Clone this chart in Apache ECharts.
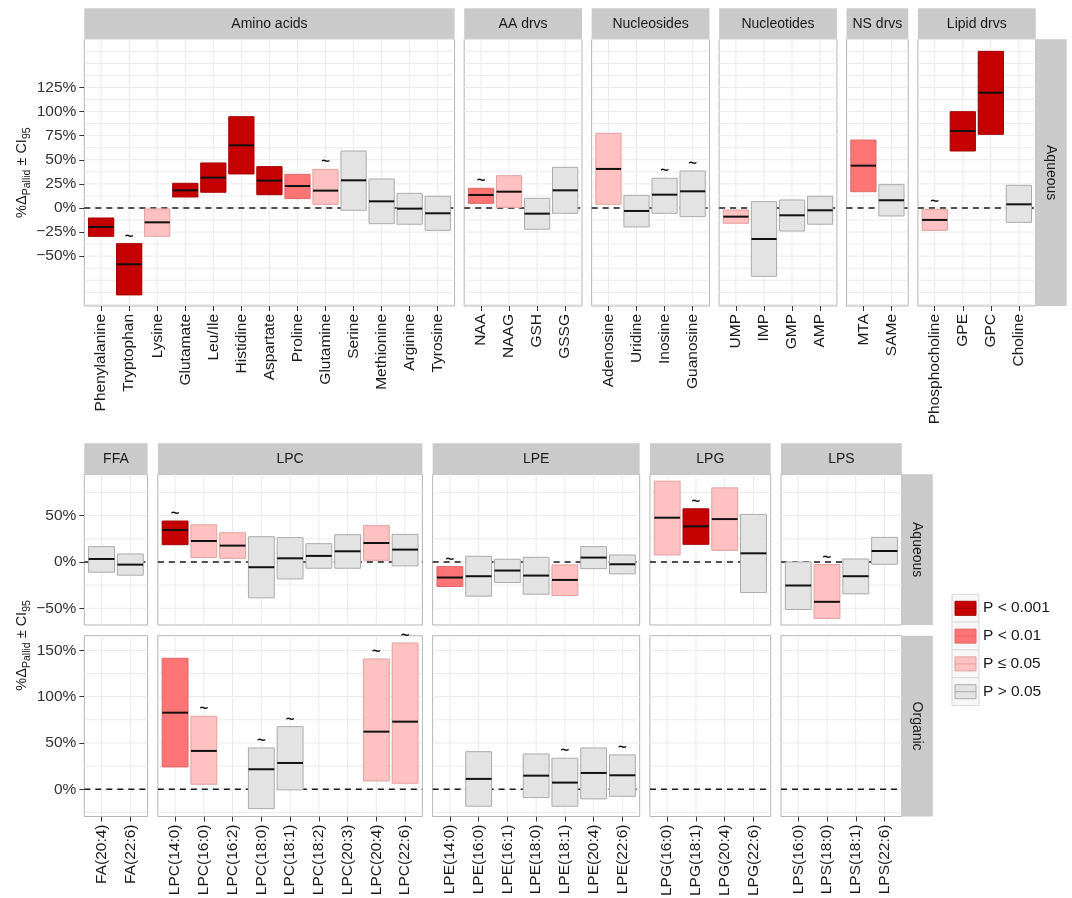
<!DOCTYPE html>
<html><head><meta charset="utf-8">
<script src="https://cdn.jsdelivr.net/npm/echarts@6/dist/echarts.min.js"></script>
<style>html,body{margin:0;padding:0;background:#fff}#c{width:1072px;height:898px}</style>
</head><body><div id="c"></div><script>
// ---------- DATA ----------
// significance code: 3 = P < 0.001, 2 = P < 0.01, 1 = P <= 0.05, 0 = P > 0.05
const sigLabels = ['P > 0.05', 'P \u2264 0.05', 'P < 0.01', 'P < 0.001'];

// Top row (Aqueous)
const aaNames = ['Phenylalanine','Tryptophan','Lysine','Glutamate','Leu/Ile','Histidine','Aspartate','Proline','Glutamine','Serine','Methionine','Arginine','Tyrosine'];
const aaLo  = [-29.4, -90.2, -29.4, 11.4, 16.3, 35.3, 13.8, 9.7, 3.8, -2.4, -16.3, -16.9, -23.2];
const aaMid = [-19.7, -58.4, -14.9, 18.3, 31.5, 65.0, 28.4, 22.8, 18.0, 28.7, 6.9, -0.7, -5.5];
const aaHi  = [-10.4, -37.0, -1.0, 25.6, 46.7, 94.7, 42.9, 34.9, 40.1, 59.1, 30.1, 15.2, 12.1];
const aaSig = [3, 3, 1, 3, 3, 3, 3, 2, 1, 0, 0, 0, 0];
const aaTilde = [0, 1, 0, 0, 0, 0, 0, 0, 1, 0, 0, 0, 0];

const aadNames = ['NAA','NAAG','GSH','GSSG'];
const aadLo  = [4.8, 0.7, -22.1, -5.5];
const aadMid = [13.5, 16.9, -5.9, 18.3];
const aadHi  = [20.4, 33.5, 10.0, 42.2];
const aadSig = [2, 1, 0, 0];
const aadTilde = [1, 0, 0, 0];

const nsNames = ['Adenosine','Uridine','Inosine','Guanosine'];
const nsLo  = [3.8, -19.7, -5.5, -9.0];
const nsMid = [40.5, -3.1, 13.8, 17.3];
const nsHi  = [77.5, 13.1, 30.8, 38.4];
const nsSig = [1, 0, 0, 0];
const nsTilde = [0, 0, 1, 1];

const ntNames = ['UMP','IMP','GMP','AMP'];
const ntLo  = [-15.9, -70.9, -23.9, -16.9];
const ntMid = [-9.0, -32.2, -7.6, -2.4];
const ntHi  = [-2.1, 6.6, 8.3, 12.1];
const ntSig = [1, 0, 0, 0];
const ntTilde = [0, 0, 0, 0];

const nsdNames = ['MTA','SAMe'];
const nsdLo  = [16.9, -8.3];
const nsdMid = [43.9, 8.0];
const nsdHi  = [70.5, 24.2];
const nsdSig = [2, 0];
const nsdTilde = [0, 0];

const ldNames = ['Phosphocholine','GPE','GPC','Choline'];
const ldLo  = [-23.2, 59.1, 76.4, -14.9];
const ldMid = [-12.4, 79.9, 119.6, 3.8];
const ldHi  = [-1.4, 99.9, 162.5, 23.5];
const ldSig = [1, 3, 3, 0];
const ldTilde = [1, 0, 0, 0];

// Bottom rows (Aqueous / Organic)
const ffaNames = ['FA(20:4)','FA(22:6)'];
const ffaAqLo  = [-11.1, -14.3];
const ffaAqMid = [3.2, -2.9];
const ffaAqHi  = [16.5, 8.6];
const ffaAqSig = [0, 0];
const ffaAqTilde = [0, 0];

const lpcNames = ['LPC(14:0)','LPC(16:0)','LPC(16:2)','LPC(18:0)','LPC(18:1)','LPC(18:2)','LPC(20:3)','LPC(20:4)','LPC(22:6)'];
const lpcAqLo  = [18.6, 4.7, 3.9, -38.7, -18.3, -6.8, -6.8, 1.8, -4.3];
const lpcAqMid = [34.4, 22.6, 17.6, -5.7, 3.9, 6.5, 11.5, 20.4, 13.3];
const lpcAqHi  = [44.1, 40.1, 31.5, 27.2, 26.2, 19.7, 29.4, 39.1, 29.7];
const lpcAqSig = [3, 1, 1, 0, 0, 0, 0, 1, 0];
const lpcAqTilde = [1, 0, 0, 0, 0, 0, 0, 0, 0];
const lpcOrgLo  = [24.1, 5.4, null, -20.9, -0.7, null, null, 9.0, 6.5];
const lpcOrgMid = [82.7, 41.4, null, 21.6, 28.4, null, null, 62.2, 73.0];
const lpcOrgHi  = [141.4, 78.8, null, 44.6, 67.6, null, null, 140.6, 157.9];
const lpcOrgSig = [2, 1, null, 0, 0, null, null, 1, 1];
const lpcOrgTilde = [0, 1, 0, 1, 1, 0, 0, 1, 1];

const lpeNames = ['LPE(14:0)','LPE(16:0)','LPE(16:1)','LPE(18:0)','LPE(18:1)','LPE(20:4)','LPE(22:6)'];
const lpeAqLo  = [-26.5, -36.9, -22.2, -34.8, -36.2, -7.2, -12.9];
const lpeAqMid = [-16.8, -15.4, -9.3, -14.7, -19.4, 4.7, -2.5];
const lpeAqHi  = [-5.0, 6.1, 2.9, 5.0, -3.2, 16.5, 7.5];
const lpeAqSig = [2, 0, 0, 0, 1, 0, 0];
const lpeAqTilde = [1, 0, 0, 0, 0, 0, 0];
const lpeOrgLo  = [null, -18.3, null, -9.0, -18.3, -10.4, -7.6];
const lpeOrgMid = [null, 11.2, null, 14.7, 7.2, 17.6, 15.1];
const lpeOrgHi  = [null, 40.6, null, 38.1, 33.5, 44.6, 37.1];
const lpeOrgSig = [null, 0, null, 0, 0, 0, 0];
const lpeOrgTilde = [0, 0, 0, 0, 1, 0, 1];

const lpgNames = ['LPG(16:0)','LPG(18:1)','LPG(20:4)','LPG(22:6)'];
const lpgAqLo  = [7.5, 19.0, 12.5, -33.0];
const lpgAqMid = [47.7, 38.4, 46.2, 9.3];
const lpgAqHi  = [87.1, 57.3, 79.9, 51.3];
const lpgAqSig = [1, 3, 1, 0];
const lpgAqTilde = [0, 1, 0, 0];

const lpsNames = ['LPS(16:0)','LPS(18:0)','LPS(18:1)','LPS(22:6)'];
const lpsAqLo  = [-51.3, -60.9, -34.4, -2.5];
const lpsAqMid = [-25.4, -43.0, -15.4, 11.8];
const lpsAqHi  = [0.0, -2.9, 3.2, 26.5];
const lpsAqSig = [0, 1, 0, 0];
const lpsAqTilde = [0, 1, 0, 0];

// Axis ticks / gridlines (percent)
const topGridVals = [-100,-87.5,-75,-62.5,-50,-37.5,-25,-12.5,0,12.5,25,37.5,50,62.5,75,87.5,100,112.5,125,137.5,150,162.5,175];
const topTickLabels = [-50,-25,0,25,50,75,100,125];
const aqGridVals = [-50,-25,0,25,50,75];
const aqTickLabels = [-50,0,50];
const orgGridVals = [-25,0,25,50,75,100,125,150];
const orgTickLabels = [0,50,100,150];

// ---------- STYLE / LAYOUT ----------
const FONT = '"Liberation Sans", Arial, Helvetica, sans-serif';
const sigFill = ['#e3e3e3', '#ffc1c1', '#ff7575', '#c40000'];
const sigLine = ['#ababab', '#e3a1a1', '#e06868', '#a40000'];
const STRIP_FILL = '#cacaca';
const STRIP = 31;
const BAR_HALF = 0.45;

const TOP = {x0: 84.3, unit: 28.05, gap: 9.64, top: 39.3, height: 266.7, min: -101.7, max: 175};
const BOT = {x0: 84.3, unit: 28.75, gap: 10.3};
const AQ = {top: 474.3, height: 150.7, min: -68.0, max: 94.5};
const ORG = {top: 635.7, height: 180.8, min: -29.4, max: 165.8};

const grids = [], xAxes = [], yAxes = [], series = [], graphics = [];

function fmtPct(v) { return (v < 0 ? '\u2212' + Math.abs(v) : String(v)) + '%'; }

function renderGrid(params, api) {
  const kind = api.value(2);
  const cs = params.coordSys;
  if (kind === 1) {
    const x = api.coord([api.value(0), 0])[0];
    return {type: 'line', shape: {x1: x, y1: cs.y, x2: x, y2: cs.y + cs.height}, style: {stroke: '#ebebeb', lineWidth: 1}};
  }
  const y = api.coord([0, api.value(1)])[1];
  if (kind === 0) {
    return {type: 'line', shape: {x1: cs.x, y1: y, x2: cs.x + cs.width, y2: y}, style: {stroke: '#ebebeb', lineWidth: 1}};
  }
  return {type: 'line', shape: {x1: cs.x, y1: y, x2: cs.x + cs.width, y2: y}, style: {stroke: '#1a1a1a', lineWidth: 1.6, lineDash: [6, 5]}};
}

function renderBar(params, api) {
  const i = api.value(0), lo = api.value(1), mid = api.value(2), hi = api.value(3), sig = api.value(4), tl = api.value(5);
  const a = api.coord([i - BAR_HALF, lo]);
  const b = api.coord([i + BAR_HALF, hi]);
  const m = api.coord([i, mid]);
  const children = [
    {type: 'rect', shape: {x: a[0], y: b[1], width: b[0] - a[0], height: a[1] - b[1]}, style: {fill: sigFill[sig], stroke: sigLine[sig], lineWidth: 1}},
    {type: 'line', shape: {x1: a[0], y1: m[1], x2: b[0], y2: m[1]}, style: {stroke: '#111', lineWidth: 2}}
  ];
  if (tl) {
    children.push({type: 'text', x: m[0], y: b[1] - 7, style: {text: '~', fill: '#111', font: 'bold 15px ' + FONT, align: 'center', verticalAlign: 'middle', textAlign: 'center', textVerticalAlign: 'middle'}});
  }
  return {type: 'group', children: children};
}

function collectBars(lo, mid, hi, sig, tl) {
  const out = [];
  if (!lo) return out;
  for (let i = 0; i < lo.length; i++) {
    if (lo[i] != null) out.push([i, lo[i], mid[i], hi[i], sig[i], tl[i]]);
  }
  return out;
}

function addPanel(left, top, width, height, names, ymin, ymax, gridVals, labelVals, showY, showX, bars) {
  const gi = grids.length;
  grids.push({left: left, top: top, width: width, height: height, show: true, backgroundColor: '#fff',
    borderColor: '#b5b5b5', borderWidth: 1, containLabel: false, outerBoundsMode: 'none'});
  const idx = names.map((_, i) => i);
  xAxes.push({type: 'value', gridIndex: gi, position: 'bottom', min: -0.6, max: names.length - 0.4,
    axisLine: {show: false, onZero: false}, splitLine: {show: false},
    axisTick: {show: showX, customValues: idx, length: 5, lineStyle: {color: '#333', width: 1}},
    axisLabel: {show: showX, customValues: idx, formatter: v => names[Math.round(v)], rotate: 90,
      fontSize: 15.5, fontFamily: FONT, color: '#1a1a1a', margin: 8}});
  yAxes.push({type: 'value', gridIndex: gi, position: 'left', min: ymin, max: ymax,
    axisLine: {show: false, onZero: false}, splitLine: {show: false},
    axisTick: {show: showY, customValues: labelVals, length: 5, lineStyle: {color: '#333', width: 1}},
    axisLabel: {show: showY, customValues: labelVals, formatter: fmtPct, fontSize: 15.5, fontFamily: FONT, color: '#333', margin: 8}});
  const gdata = gridVals.map(v => [0, v, 0]).concat(idx.map(i => [i, 0, 1])).concat([[0, 0, 2]]);
  series.push({type: 'custom', xAxisIndex: gi, yAxisIndex: gi, z: 1, silent: true, renderItem: renderGrid, data: gdata});
  if (bars.length) {
    series.push({type: 'custom', xAxisIndex: gi, yAxisIndex: gi, z: 2, silent: true, renderItem: renderBar, data: bars});
  }
}

function addStrip(x, y, w, h, label, vertical) {
  graphics.push({type: 'rect', shape: {x: x, y: y, width: w, height: h}, style: {fill: STRIP_FILL}, silent: true});
  graphics.push({type: 'text', x: x + w / 2, y: y + h / 2, rotation: vertical ? -Math.PI / 2 : 0,
    style: {text: label, fill: '#1a1a1a', font: '14px ' + FONT, align: 'center', verticalAlign: 'middle', textAlign: 'center', textVerticalAlign: 'middle'}, silent: true});
}

// ---------- TOP ROW ----------
const topFacets = [
  ['Amino acids', aaNames, aaLo, aaMid, aaHi, aaSig, aaTilde],
  ['AA drvs', aadNames, aadLo, aadMid, aadHi, aadSig, aadTilde],
  ['Nucleosides', nsNames, nsLo, nsMid, nsHi, nsSig, nsTilde],
  ['Nucleotides', ntNames, ntLo, ntMid, ntHi, ntSig, ntTilde],
  ['NS drvs', nsdNames, nsdLo, nsdMid, nsdHi, nsdSig, nsdTilde],
  ['Lipid drvs', ldNames, ldLo, ldMid, ldHi, ldSig, ldTilde]
];
let x = TOP.x0;
topFacets.forEach((f, k) => {
  const w = (f[1].length + 0.2) * TOP.unit;
  addPanel(x, TOP.top, w, TOP.height, f[1], TOP.min, TOP.max, topGridVals, topTickLabels, k === 0, true,
    collectBars(f[2], f[3], f[4], f[5], f[6]));
  addStrip(x, TOP.top - STRIP, w, STRIP, f[0], false);
  x += w;
  if (k < topFacets.length - 1) x += TOP.gap;
});
addStrip(x, TOP.top, STRIP, TOP.height, 'Aqueous', true);

// ---------- BOTTOM ROWS ----------
const botFacets = [
  ['FFA', ffaNames, [ffaAqLo, ffaAqMid, ffaAqHi, ffaAqSig, ffaAqTilde], null],
  ['LPC', lpcNames, [lpcAqLo, lpcAqMid, lpcAqHi, lpcAqSig, lpcAqTilde], [lpcOrgLo, lpcOrgMid, lpcOrgHi, lpcOrgSig, lpcOrgTilde]],
  ['LPE', lpeNames, [lpeAqLo, lpeAqMid, lpeAqHi, lpeAqSig, lpeAqTilde], [lpeOrgLo, lpeOrgMid, lpeOrgHi, lpeOrgSig, lpeOrgTilde]],
  ['LPG', lpgNames, [lpgAqLo, lpgAqMid, lpgAqHi, lpgAqSig, lpgAqTilde], null],
  ['LPS', lpsNames, [lpsAqLo, lpsAqMid, lpsAqHi, lpsAqSig, lpsAqTilde], null]
];
x = BOT.x0;
botFacets.forEach((f, k) => {
  const w = (f[1].length + 0.2) * BOT.unit;
  const aq = f[2], org = f[3];
  addPanel(x, AQ.top, w, AQ.height, f[1], AQ.min, AQ.max, aqGridVals, aqTickLabels, k === 0, false,
    collectBars(aq[0], aq[1], aq[2], aq[3], aq[4]));
  addPanel(x, ORG.top, w, ORG.height, f[1], ORG.min, ORG.max, orgGridVals, orgTickLabels, k === 0, true,
    org ? collectBars(org[0], org[1], org[2], org[3], org[4]) : []);
  addStrip(x, AQ.top - STRIP, w, STRIP, f[0], false);
  x += w;
  if (k < botFacets.length - 1) x += BOT.gap;
});
addStrip(x, AQ.top, STRIP, AQ.height, 'Aqueous', true);
addStrip(x, ORG.top, STRIP, ORG.height, 'Organic', true);

// ---------- Y TITLES ----------
function yTitle(cy) {
  graphics.push({type: 'text', x: 22, y: cy, rotation: Math.PI / 2, silent: true,
    style: {text: '{a|%\u0394}{s|Pallid}{a| \u00b1 CI}{s|95}', align: 'center', verticalAlign: 'middle', textAlign: 'center', textVerticalAlign: 'middle',
      rich: {
        a: {fontSize: 14.5, fontFamily: FONT, fill: '#1a1a1a', color: '#1a1a1a', lineHeight: 22, verticalAlign: 'middle'},
        s: {fontSize: 10.5, fontFamily: FONT, fill: '#1a1a1a', color: '#1a1a1a', lineHeight: 22, verticalAlign: 'bottom'}
      }}});
}
yTitle(TOP.top + TOP.height / 2);
yTitle((AQ.top + ORG.top + ORG.height) / 2);

// ---------- LEGEND ----------
const LEG = {x: 952, y: 594.3, w: 27, h: 27.8};
[3, 2, 1, 0].forEach((s, k) => {
  const ky = LEG.y + k * LEG.h;
  graphics.push({type: 'rect', shape: {x: LEG.x, y: ky, width: LEG.w, height: LEG.h}, style: {fill: '#f7f7f7', stroke: '#d9d9d9', lineWidth: 1}, silent: true});
  graphics.push({type: 'rect', shape: {x: LEG.x + 3, y: ky + 7, width: LEG.w - 6, height: 14}, style: {fill: sigFill[s], stroke: sigLine[s], lineWidth: 1}, silent: true});
  graphics.push({type: 'line', shape: {x1: LEG.x + 3, y1: ky + 14, x2: LEG.x + LEG.w - 3, y2: ky + 14}, style: {stroke: sigLine[s], lineWidth: 1}, silent: true});
  graphics.push({type: 'text', x: LEG.x + LEG.w + 4, y: ky + LEG.h / 2, silent: true,
    style: {text: sigLabels[s], fill: '#1a1a1a', font: '15.5px ' + FONT, align: 'left', verticalAlign: 'middle', textAlign: 'left', textVerticalAlign: 'middle'}});
});

const chart = echarts.init(document.getElementById('c'), null, {renderer: 'canvas', width: 1072, height: 898});
chart.setOption({
  backgroundColor: '#fff',
  animation: false,
  grid: grids,
  xAxis: xAxes,
  yAxis: yAxes,
  series: series,
  graphic: {elements: graphics}
});
</script></body></html>
